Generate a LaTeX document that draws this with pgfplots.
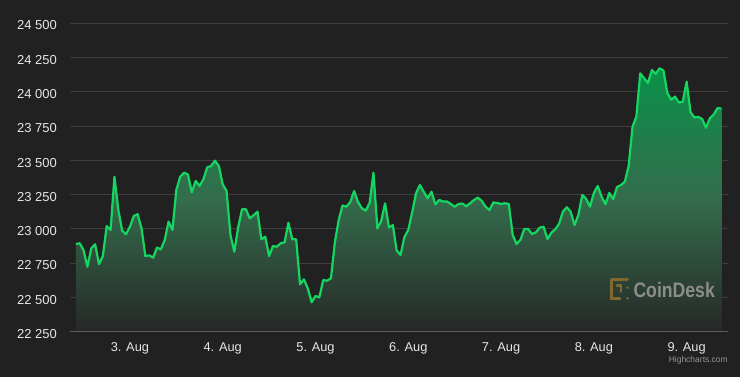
\documentclass[border=0pt]{standalone}
\usepackage{pgfplots}
\usepackage{pgfplotstable}
\pgfplotsset{compat=1.18}
\usepackage{fontspec}
\setmainfont{Liberation Sans}
\definecolor{bg}{RGB}{33,33,33}
\definecolor{gridc}{RGB}{62,62,62}
\definecolor{axisc}{RGB}{92,92,92}
\definecolor{lab}{RGB}{230,230,230}
\definecolor{linec}{RGB}{22,214,98}
\definecolor{ftop}{RGB}{9,145,72}
\definecolor{fmid}{RGB}{52,108,76}
\definecolor{fbot}{RGB}{38,40,39}
\definecolor{gold}{RGB}{128,104,48}
\definecolor{wm}{RGB}{140,140,140}
\definecolor{cred}{RGB}{150,150,150}

\pgfplotstableread{
h v
-14 22890
-13 22895
-12 22846
-11 22724
-10 22858
-9 22888
-8 22742
-7 22802
-6 23021
-5 22992
-4 23381
-3 23138
-2 22987
-1 22961
0 23016
1 23094
2 23107
3 23004
4 22802
5 22807
6 22790
7 22863
8 22851
9 22919
10 23053
11 22992
12 23284
13 23381
14 23410
15 23398
16 23267
17 23350
18 23313
19 23362
20 23449
21 23459
22 23498
23 23459
24 23325
25 23277
26 22956
27 22834
28 23012
29 23143
30 23143
31 23077
32 23100
33 23126
34 22924
35 22943
36 22802
37 22875
38 22870
39 22895
40 22902
41 23045
42 22924
43 22924
44 22596
45 22632
46 22567
47 22465
48 22510
49 22501
50 22627
51 22622
52 22640
53 22900
54 23065
55 23171
56 23162
57 23196
58 23277
59 23196
60 23150
61 23134
62 23189
63 23410
64 23004
65 23058
66 23187
67 23010
68 23028
69 22842
70 22810
71 22941
72 22992
73 23120
74 23260
75 23320
76 23271
77 23223
78 23271
79 23180
80 23211
81 23200
82 23200
83 23182
84 23162
85 23182
86 23185
87 23165
88 23187
89 23211
90 23228
91 23205
92 23162
93 23138
94 23193
95 23189
96 23182
97 23187
98 23182
99 22956
100 22890
101 22919
102 22999
103 22999
104 22963
105 22975
106 23009
107 23016
108 22926
109 22972
110 22997
111 23036
112 23126
113 23158
114 23126
115 23028
116 23101
117 23247
118 23220
119 23162
120 23262
121 23313
122 23235
123 23180
124 23262
125 23217
126 23306
127 23320
128 23344
129 23459
130 23744
131 23820
132 24135
133 24099
134 24065
135 24159
136 24130
137 24172
138 24156
139 23992
140 23943
141 23965
142 23922
143 23928
144 24074
145 23853
146 23813
147 23817
148 23802
149 23738
150 23807
151 23835
152 23882
153 23878
}\btc

\begin{document}
\begin{tikzpicture}
\fill[bg] (-70bp,-45.3bp) rectangle (670bp,331.7bp);
\begin{axis}[
  scale only axis, width=658bp, height=308.4bp,
  at={(0,0)}, anchor=south west,
  xmin=-15.5, xmax=154.7, ymin=22250, ymax=24500,
  scaled y ticks=false, scaled x ticks=false,
  axis line style={draw=none},
  major tick length=0pt,
  ymajorgrids, grid style={gridc, line width=1bp},
  ytick={22250,22500,22750,23000,23250,23500,23750,24000,24250,24500},
  yticklabels={22 250,22 500,22 750,23 000,23 250,23 500,23 750,24 000,24 250,24 500},
  xtick={0,24,48,72,96,120,144},
  xticklabels={3. Aug,4. Aug,5. Aug,6. Aug,7. Aug,8. Aug,9. Aug},
  yticklabel style={anchor=base east, inner sep=0pt, xshift=-13bp, yshift=-6.7bp, text=lab, font=\fontsize{13bp}{15bp}\selectfont},
  xticklabel style={anchor=base, inner sep=0pt, yshift=-20bp, text=lab, font=\fontsize{12.8bp}{15bp}\selectfont},
  after end axis/.code={\draw[axisc, line width=1bp] (rel axis cs:0,0) -- (rel axis cs:1,0);},
]
\addplot[draw=none, top color=ftop, bottom color=fbot, middle color=fmid]
  table[x=h,y=v]{\btc} -- (axis cs:153,22250) -- (axis cs:-14,22250) -- cycle;
\addplot[linec, line width=2.2bp, line join=round] table[x=h,y=v]{\btc};
\end{axis}
% CoinDesk watermark
\begin{scope}[gold, line width=2.6bp, line cap=round]
  \draw (541.5bp,52bp) -- (557.5bp,52bp);
  \draw (541.5bp,52bp) -- (541.5bp,33bp) -- (550bp,33bp);
  \fill (557.5bp,44bp) circle (1.4bp);
  \fill (557.5bp,33.5bp) circle (1.4bp);
  \draw (547bp,46bp) -- (551bp,46bp) -- (551bp,40bp);
\end{scope}
\node[anchor=base west, inner sep=0pt, text=wm, font=\fontsize{21bp}{24bp}\selectfont\bfseries] at (563.3bp,34bp) {\scalebox{0.84}[1]{CoinDesk}};
\node[anchor=base east, inner sep=0pt, text=cred, font=\fontsize{8.5bp}{10bp}\selectfont] at (658bp,-30.8bp) {Highcharts.com};
\pgfresetboundingbox
\useasboundingbox (-70bp,-45.3bp) rectangle (670bp,331.7bp);
\end{tikzpicture}
\end{document}
